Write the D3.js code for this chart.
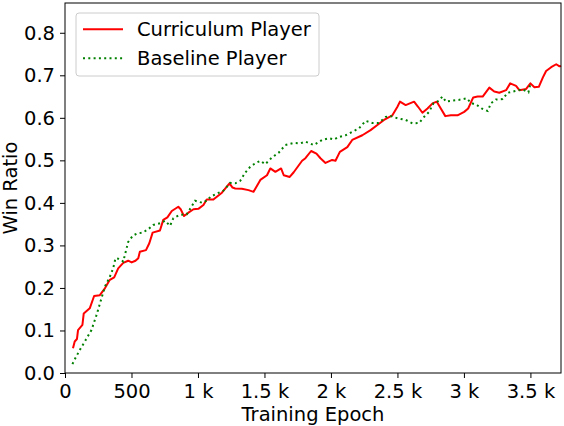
<!DOCTYPE html>
<html>
<head>
<meta charset="utf-8">
<script src="https://cdn.jsdelivr.net/npm/d3@7"></script>
<style>
  body { margin: 0; background: #fff; }
  svg { display: block; font-family: "DejaVu Sans", sans-serif; }
</style>
</head>
<body>
<svg id="chart"></svg>
<script>
// epochs and win ratios
const curriculumEpoch = [60, 73, 90, 98, 131, 141, 186, 219, 262, 300, 337, 370, 400, 438, 475, 501, 530, 551, 563, 609, 634, 659, 714, 739, 770, 803, 852, 870, 895, 928, 966, 1003, 1041, 1066, 1116, 1180, 1237, 1260, 1280, 1330, 1380, 1418, 1469, 1519, 1544, 1582, 1625, 1645, 1690, 1720, 1783, 1808, 1851, 1891, 1921, 1959, 2009, 2034, 2067, 2123, 2160, 2236, 2298, 2349, 2399, 2462, 2500, 2519, 2562, 2625, 2655, 2688, 2726, 2764, 2796, 2826, 2860, 2902, 2952, 3002, 3032, 3070, 3103, 3141, 3191, 3228, 3266, 3317, 3348, 3392, 3417, 3468, 3500, 3530, 3563, 3594, 3618, 3656, 3694, 3719, 3730];
const curriculumRatio = [0.058, 0.074, 0.080, 0.101, 0.113, 0.140, 0.152, 0.181, 0.183, 0.199, 0.219, 0.225, 0.246, 0.259, 0.264, 0.260, 0.264, 0.270, 0.285, 0.289, 0.305, 0.330, 0.335, 0.360, 0.366, 0.381, 0.391, 0.385, 0.369, 0.377, 0.385, 0.386, 0.395, 0.408, 0.408, 0.424, 0.446, 0.436, 0.434, 0.433, 0.430, 0.426, 0.454, 0.465, 0.481, 0.473, 0.481, 0.465, 0.461, 0.472, 0.499, 0.505, 0.522, 0.516, 0.505, 0.494, 0.501, 0.499, 0.520, 0.531, 0.548, 0.559, 0.571, 0.583, 0.595, 0.606, 0.626, 0.638, 0.630, 0.638, 0.626, 0.612, 0.622, 0.634, 0.638, 0.622, 0.604, 0.606, 0.606, 0.614, 0.622, 0.648, 0.650, 0.650, 0.671, 0.662, 0.659, 0.665, 0.681, 0.675, 0.665, 0.668, 0.681, 0.672, 0.673, 0.695, 0.710, 0.719, 0.726, 0.721, 0.722];

const baselineEpoch = [56, 73, 111, 149, 199, 237, 267, 300, 337, 362, 380, 413, 438, 475, 510, 543, 584, 626, 664, 714, 752, 790, 815, 865, 916, 953, 978, 1035, 1079, 1091, 1137, 1192, 1242, 1280, 1318, 1355, 1393, 1431, 1469, 1506, 1557, 1607, 1657, 1720, 1770, 1808, 1871, 1934, 1984, 2022, 2059, 2110, 2160, 2210, 2261, 2311, 2361, 2412, 2449, 2500, 2562, 2613, 2663, 2700, 2738, 2771, 2801, 2839, 2865, 2902, 2960, 3022, 3053, 3098, 3133, 3179, 3203, 3241, 3292, 3329, 3385, 3442, 3485, 3500];
const baselineRatio = [0.021, 0.032, 0.054, 0.074, 0.101, 0.136, 0.168, 0.203, 0.226, 0.246, 0.270, 0.268, 0.262, 0.308, 0.323, 0.328, 0.330, 0.338, 0.348, 0.352, 0.358, 0.346, 0.364, 0.372, 0.373, 0.392, 0.405, 0.400, 0.408, 0.414, 0.421, 0.429, 0.447, 0.446, 0.452, 0.471, 0.485, 0.493, 0.499, 0.491, 0.507, 0.518, 0.536, 0.541, 0.540, 0.544, 0.536, 0.548, 0.552, 0.549, 0.555, 0.559, 0.567, 0.575, 0.593, 0.588, 0.588, 0.602, 0.604, 0.599, 0.595, 0.587, 0.588, 0.602, 0.614, 0.634, 0.638, 0.650, 0.638, 0.640, 0.642, 0.646, 0.635, 0.630, 0.622, 0.616, 0.634, 0.643, 0.644, 0.659, 0.663, 0.667, 0.660, 0.680];

const xTicks = [0, 500, 1000, 1500, 2000, 2500, 3000, 3500];
const xTickLabels = ["0", "500", "1 k", "1.5 k", "2 k", "2.5 k", "3 k", "3.5 k"];
const yTicks = [0, 0.1, 0.2, 0.3, 0.4, 0.5, 0.6, 0.7, 0.8];

const seriesNames = ["Curriculum Player", "Baseline Player"];

const width = 564, height = 426;
const margin = { top: 3, right: 3, bottom: 53, left: 65 };
const fontSize = 19.5;

const svg = d3.select("#chart")
    .attr("width", width)
    .attr("height", height);

svg.append("rect").attr("width", width).attr("height", height).attr("fill", "#fff");

const x = d3.scaleLinear().domain([0, 3730]).range([margin.left, width - margin.right]);
const y = d3.scaleLinear().domain([0, 0.87]).range([height - margin.bottom, margin.top]);

const xAxis = svg.append("g")
    .attr("transform", `translate(0,${height - margin.bottom})`)
    .call(d3.axisBottom(x).tickValues(xTicks).tickFormat((d, i) => xTickLabels[i]).tickSize(5).tickPadding(6));

const yAxis = svg.append("g")
    .attr("transform", `translate(${margin.left},0)`)
    .call(d3.axisLeft(y).tickValues(yTicks).tickFormat(d3.format(".1f")).tickSize(5).tickPadding(5));

[xAxis, yAxis].forEach(g => {
    g.select(".domain").remove();
    g.selectAll("text").attr("font-size", fontSize).attr("fill", "#000").attr("font-family", "DejaVu Sans");
    g.selectAll("line").attr("stroke", "#000").attr("stroke-width", 1);
});

const line = d3.line().x(d => x(d[0])).y(d => y(d[1]));

const curData = curriculumEpoch.map((e, i) => [e, curriculumRatio[i]]);
const baseData = baselineEpoch.map((e, i) => [e, baselineRatio[i]]);

svg.append("path")
    .datum(curData)
    .attr("d", line)
    .attr("fill", "none")
    .attr("stroke", "#ff0000")
    .attr("stroke-width", 2)
    .attr("stroke-linejoin", "round");

svg.append("path")
    .datum(baseData)
    .attr("d", line)
    .attr("fill", "none")
    .attr("stroke", "#008000")
    .attr("stroke-width", 2)
    .attr("stroke-dasharray", "2,3.3");

// frame
svg.append("rect")
    .attr("x", margin.left)
    .attr("y", margin.top)
    .attr("width", width - margin.left - margin.right)
    .attr("height", height - margin.top - margin.bottom)
    .attr("fill", "none")
    .attr("stroke", "#000")
    .attr("stroke-width", 1);

// axis titles
svg.append("text")
    .attr("x", (margin.left + width - margin.right) / 2)
    .attr("y", 421)
    .attr("text-anchor", "middle")
    .attr("font-size", fontSize)
    .text("Training Epoch");

svg.append("text")
    .attr("transform", `translate(17,${(margin.top + height - margin.bottom) / 2}) rotate(-90)`)
    .attr("text-anchor", "middle")
    .attr("font-size", fontSize)
    .text("Win Ratio");

// legend
const legend = svg.append("g").attr("transform", "translate(76,13)");
legend.append("rect")
    .attr("width", 243)
    .attr("height", 63)
    .attr("rx", 3)
    .attr("fill", "#fff")
    .attr("fill-opacity", 0.8)
    .attr("stroke", "#ccc")
    .attr("stroke-width", 1);

const legendStyles = [
    { color: "#ff0000", dash: null },
    { color: "#008000", dash: "2,3.3" }
];

seriesNames.forEach((name, i) => {
    const cy = 16.3 + i * 29;
    legend.append("line")
        .attr("x1", 7).attr("x2", 47)
        .attr("y1", cy).attr("y2", cy)
        .attr("stroke", legendStyles[i].color)
        .attr("stroke-width", 2)
        .attr("stroke-dasharray", legendStyles[i].dash);
    legend.append("text")
        .attr("x", 61)
        .attr("y", cy)
        .attr("dy", "0.34em")
        .attr("font-size", fontSize)
        .text(name);
});
</script>
</body>
</html>
